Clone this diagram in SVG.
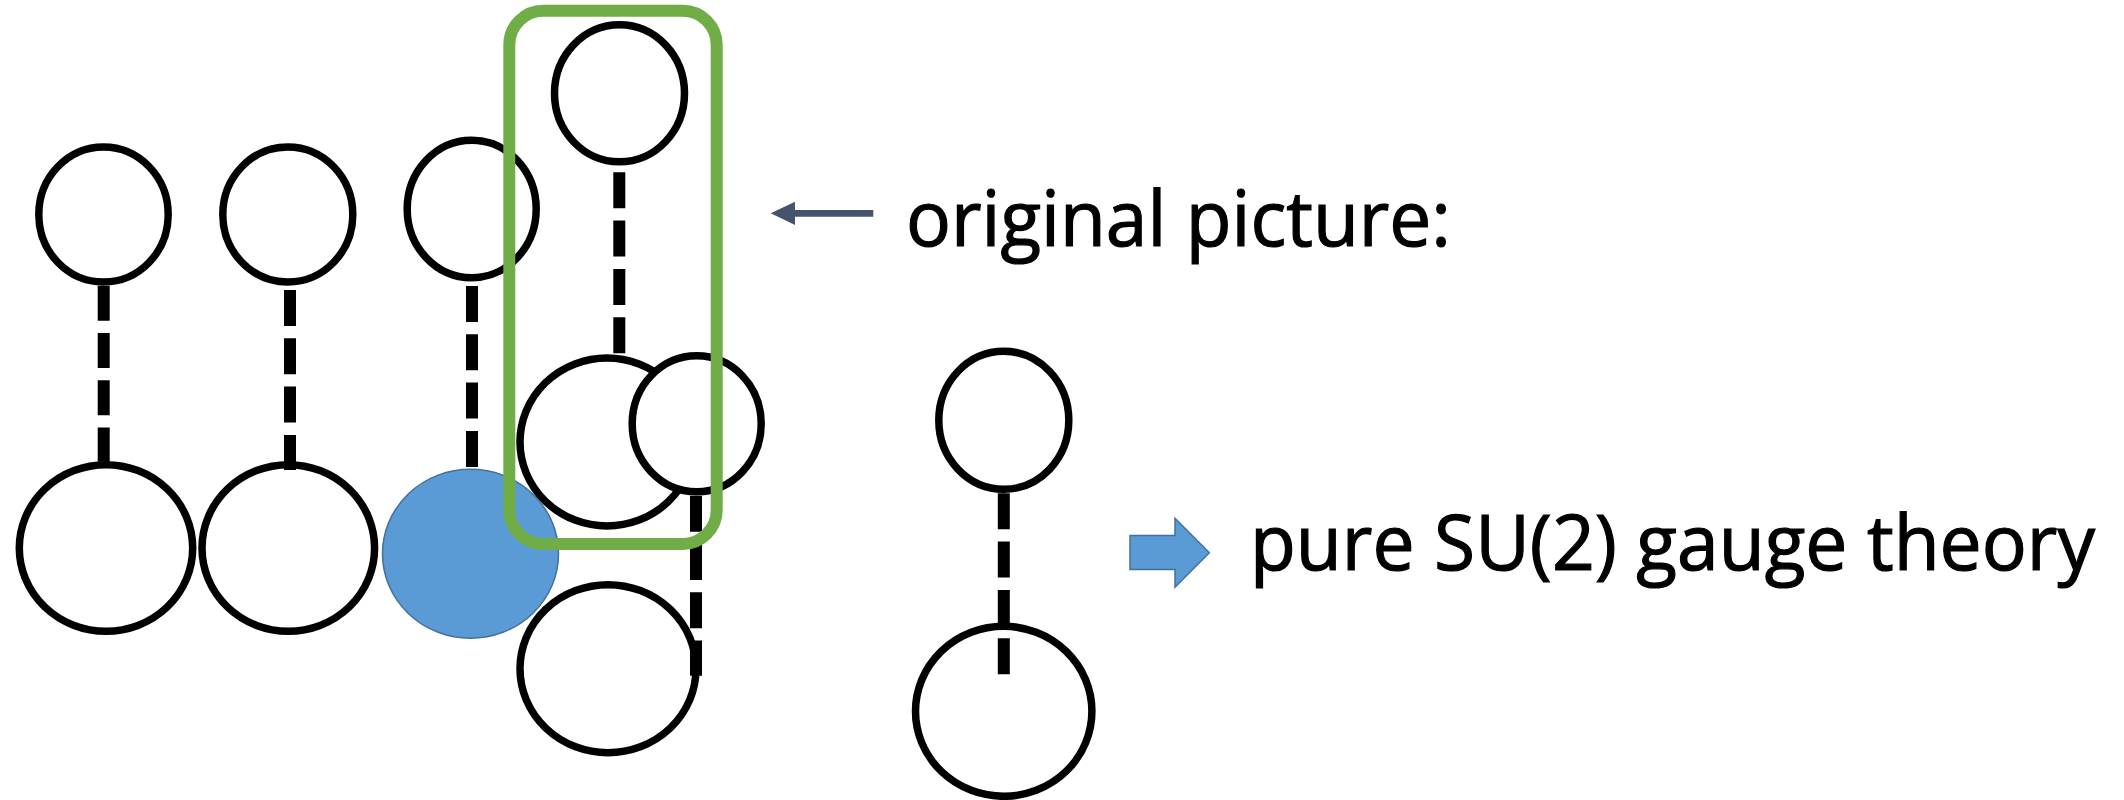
<svg xmlns="http://www.w3.org/2000/svg" width="2124" height="800" viewBox="0 0 2124 800">
  <style>
    .node { fill: #ffffff; stroke: #000000; stroke-width: 7.5; }
    .node-filled { fill: #5B9BD5; stroke: #41719C; stroke-width: 1.5; }
    .bond { stroke: #000000; stroke-width: 12; stroke-dasharray: 36 12.3; fill: none; }
    .frame { fill: none; stroke: #70AD47; stroke-width: 12; }
    .label { font-family: "Open Sans", "Noto Sans", "Liberation Sans", sans-serif; font-size: 77px; fill: #000000; stroke: #000000; stroke-width: 1.2; }
  </style>
  <rect x="0" y="0" width="2124" height="800" fill="#ffffff"/>

  <!-- column 1 -->
  <g id="c1-top"><ellipse class="node" cx="103.5" cy="214.5" rx="64.7" ry="67.5"/></g>
  <g id="c1-bottom"><ellipse class="node" cx="106" cy="548" rx="86.7" ry="83.3"/></g>

  <!-- column 2 -->
  <g id="c2-top"><ellipse class="node" cx="287.8" cy="214.5" rx="65" ry="67.5"/></g>
  <g id="c2-bottom"><ellipse class="node" cx="288.3" cy="548" rx="86.3" ry="83.3"/></g>

  <!-- column 3 -->
  <g id="c3-top"><ellipse class="node" cx="471.7" cy="209" rx="64.5" ry="68.7"/></g>
  <g id="c3-bottom"><ellipse class="node-filled" cx="470.5" cy="553.7" rx="88" ry="84.5"/></g>

  <!-- column 4 -->
  <g id="c4-top"><ellipse class="node" cx="619.5" cy="93.3" rx="65" ry="68.5"/></g>
  <g id="c4-middle"><ellipse class="node" cx="607" cy="442" rx="87" ry="84"/></g>
  <g id="c4-side"><ellipse class="node" cx="696.7" cy="423.8" rx="64.5" ry="68"/></g>
  <g id="c4-bottom"><ellipse class="node" cx="608" cy="668.7" rx="88" ry="84"/></g>

  <!-- result pair -->
  <g id="r-top"><ellipse class="node" cx="1003.8" cy="420.3" rx="65" ry="69"/></g>
  <g id="r-bottom"><ellipse class="node" cx="1003.7" cy="711.3" rx="88.2" ry="85"/></g>

  <!-- dashed bonds -->
  <g id="connectors">
    <line class="bond" x1="103.7" y1="285.7" x2="103.7" y2="461.7" style="stroke-dasharray:35 12.3"/>
    <line class="bond" x1="290" y1="290" x2="290" y2="470"/>
    <line class="bond" x1="472" y1="286" x2="472" y2="468.3"/>
    <line class="bond" x1="619.3" y1="172.3" x2="619.3" y2="355"/>
    <line class="bond" x1="696" y1="495.7" x2="696" y2="675.7"/>
    <line class="bond" x1="1003.8" y1="493.3" x2="1003.8" y2="674.3"/>
  </g>

  <!-- highlight frame -->
  <g id="frame"><rect class="frame" x="509.3" y="10.7" width="207.4" height="533.3" rx="34" ry="34"/></g>

  <!-- pointer to the original picture -->
  <g id="pointer">
    <path d="M770.7 213.3 L795 201.7 L795 210 L873.3 210 L873.3 216.7 L795 216.7 L795 225 Z" fill="#44546A"/>
  </g>
  <g id="label-original">
    <text class="label" x="906" y="246" textLength="545" lengthAdjust="spacingAndGlyphs">original picture:</text>
  </g>

  <!-- block arrow to the result -->
  <g id="block-arrow">
    <path d="M1130 535.5 L1175 535.5 L1175 518.3 L1209.3 552.7 L1175 587.3 L1175 569.5 L1130 569.5 Z" fill="#5B9BD5" stroke="#41719C" stroke-width="1.5"/>
  </g>
  <g id="label-result">
    <text class="label" x="1250" y="570" textLength="845" lengthAdjust="spacingAndGlyphs">pure SU(2) gauge theory</text>
  </g>
</svg>
